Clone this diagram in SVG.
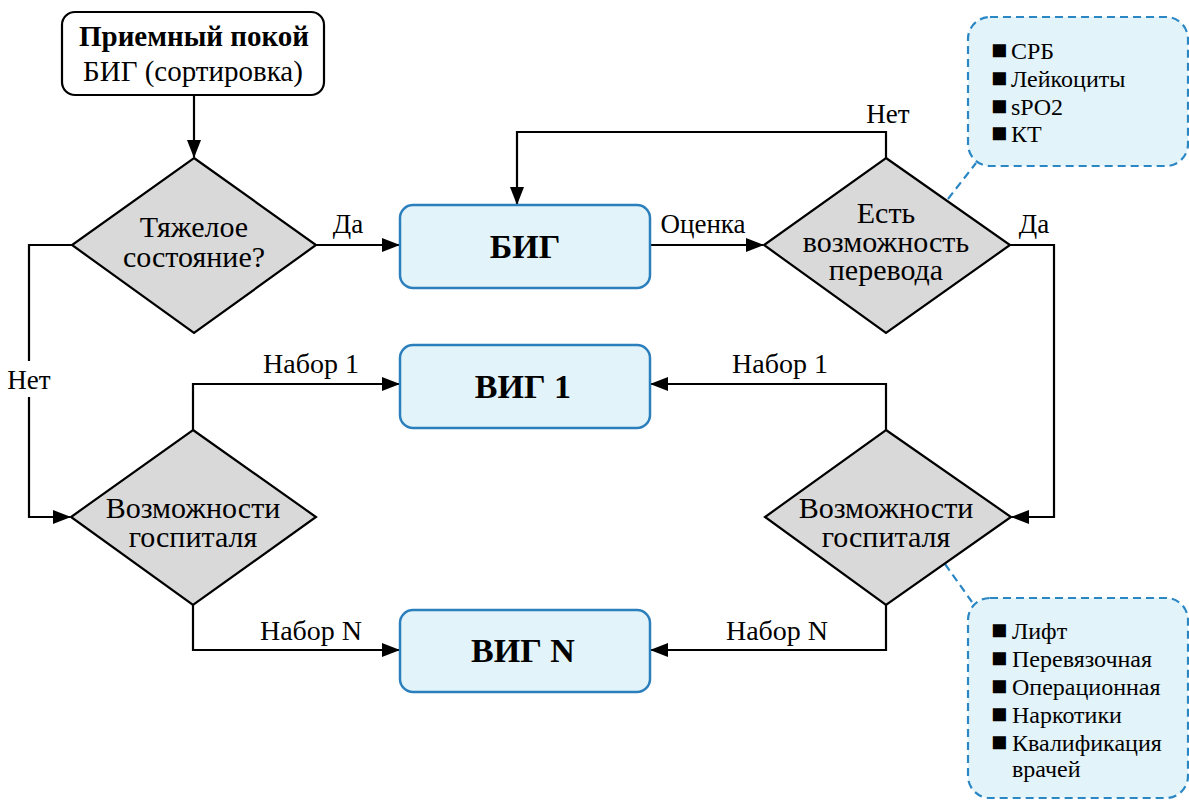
<svg xmlns="http://www.w3.org/2000/svg" width="1189" height="800" viewBox="0 0 1189 800">
<style>
text{font-family:"Liberation Serif","Times New Roman",serif;fill:#000}
.lbl{font-size:27px;text-anchor:middle}
.nb{font-size:28px;text-anchor:middle}
.dt{font-size:30px;text-anchor:middle}
.bt{font-size:34px;font-weight:bold;text-anchor:middle}
.bl{font-size:24px}
.sq{font-size:27px}
.con{fill:none;stroke:#000;stroke-width:2.2}
.dash{fill:none;stroke:#2a87c4;stroke-width:2.2;stroke-dasharray:8 5}
.dia{fill:#d9d9d9;stroke:#000;stroke-width:2.2}
.box{fill:#e2f3f9;stroke:#2c7fbd;stroke-width:2.5}
.note{fill:#e2f3f9;stroke:#2a87c4;stroke-width:2.2;stroke-dasharray:8 5}
</style>
<defs>
<marker id="ah" markerUnits="userSpaceOnUse" markerWidth="18" markerHeight="14" refX="17" refY="7" orient="auto">
<path d="M0,0 L18,7 L0,14 Z" fill="#000"/>
</marker>
</defs>
<rect width="1189" height="800" fill="#fff"/>
<g id="connectors">
<path class="con" d="M194,95 V157" marker-end="url(#ah)"/>
<path class="con" d="M316,245 H399" marker-end="url(#ah)"/>
<path class="con" d="M72,245 H29 V517 H70" marker-end="url(#ah)"/>
<path class="con" d="M650,245 H763" marker-end="url(#ah)"/>
<path class="con" d="M886,158 V132 H517 V204" marker-end="url(#ah)"/>
<path class="con" d="M1010,245 H1054 V517 H1012" marker-end="url(#ah)"/>
<path class="con" d="M193,430 V384 H399" marker-end="url(#ah)"/>
<path class="con" d="M193,605 V650 H399" marker-end="url(#ah)"/>
<path class="con" d="M886,430 V384 H651" marker-end="url(#ah)"/>
<path class="con" d="M886,605 V650 H651" marker-end="url(#ah)"/>
<path class="dash" d="M948,199 L976,163"/>
<path class="dash" d="M945,564 L972,602"/>
<rect x="12" y="361" width="34" height="36" fill="#fff"/>
<text class="lbl" x="348" y="233">Да</text>
<text class="lbl" x="29" y="389">Нет</text>
<text class="lbl" x="703" y="233">Оценка</text>
<text class="lbl" x="888" y="123">Нет</text>
<text class="lbl" x="1034" y="233">Да</text>
<text class="nb" x="311" y="373">Набор 1</text>
<text class="nb" x="311" y="640">Набор N</text>
<text class="nb" x="780" y="373">Набор 1</text>
<text class="nb" x="777" y="640">Набор N</text>
</g>
<g id="start">
<rect x="62" y="12" width="262" height="83" rx="13" fill="#fff" stroke="#000" stroke-width="2.2"/>
<text style="font-size:29px;text-anchor:middle"><tspan x="194" y="46" style="font-weight:bold">Приемный покой</tspan><tspan x="193" y="81">БИГ (сортировка)</tspan></text>
</g>
<g id="d1">
<polygon class="dia" points="194,158 316,245 194,333 72,245"/>
<text class="dt"><tspan x="194" y="237">Тяжелое</tspan><tspan x="194" y="267">состояние?</tspan></text>
</g>
<g id="big">
<rect class="box" x="400" y="205" width="250" height="83" rx="13"/>
<text class="bt" x="525" y="258">БИГ</text>
</g>
<g id="d3">
<polygon class="dia" points="886,158 1010,245 886,333 764,245"/>
<text class="dt"><tspan x="886" y="223">Есть</tspan><tspan x="886" y="252">возможность</tspan><tspan x="886" y="280">перевода</tspan></text>
</g>
<g id="vig1">
<rect class="box" x="400" y="345" width="250" height="83" rx="13"/>
<text class="bt" x="523" y="398">ВИГ 1</text>
</g>
<g id="vign">
<rect class="box" x="400" y="610" width="250" height="82" rx="13"/>
<text class="bt" x="523" y="662">ВИГ N</text>
</g>
<g id="d2">
<polygon class="dia" points="193,430 316,517 193,605 71,517"/>
<text class="dt"><tspan x="193" y="518">Возможности</tspan><tspan x="193" y="547">госпиталя</tspan></text>
</g>
<g id="d4">
<polygon class="dia" points="886,430 1011,517 886,605 765,517"/>
<text class="dt"><tspan x="886" y="518">Возможности</tspan><tspan x="886" y="547">госпиталя</tspan></text>
</g>
<g id="note1">
<rect class="note" x="968" y="17" width="220" height="149" rx="22"/>
<text class="bl"><tspan class="sq" x="991" y="59">■</tspan><tspan x="1011" y="59">СРБ</tspan><tspan class="sq" x="991" y="87">■</tspan><tspan x="1011" y="87">Лейкоциты</tspan><tspan class="sq" x="991" y="115">■</tspan><tspan x="1011" y="115">sPO2</tspan><tspan class="sq" x="991" y="142">■</tspan><tspan x="1011" y="142">КТ</tspan></text>
</g>
<g id="note2">
<rect class="note" x="968" y="598" width="220" height="200" rx="22"/>
<text class="bl"><tspan class="sq" x="991" y="639">■</tspan><tspan x="1012" y="639">Лифт</tspan><tspan class="sq" x="991" y="667">■</tspan><tspan x="1012" y="667">Перевязочная</tspan><tspan class="sq" x="991" y="695">■</tspan><tspan x="1012" y="695">Операционная</tspan><tspan class="sq" x="991" y="723">■</tspan><tspan x="1012" y="723">Наркотики</tspan><tspan class="sq" x="991" y="751">■</tspan><tspan x="1012" y="751">Квалификация</tspan><tspan x="1012" y="777">врачей</tspan></text>
</g>
</svg>
